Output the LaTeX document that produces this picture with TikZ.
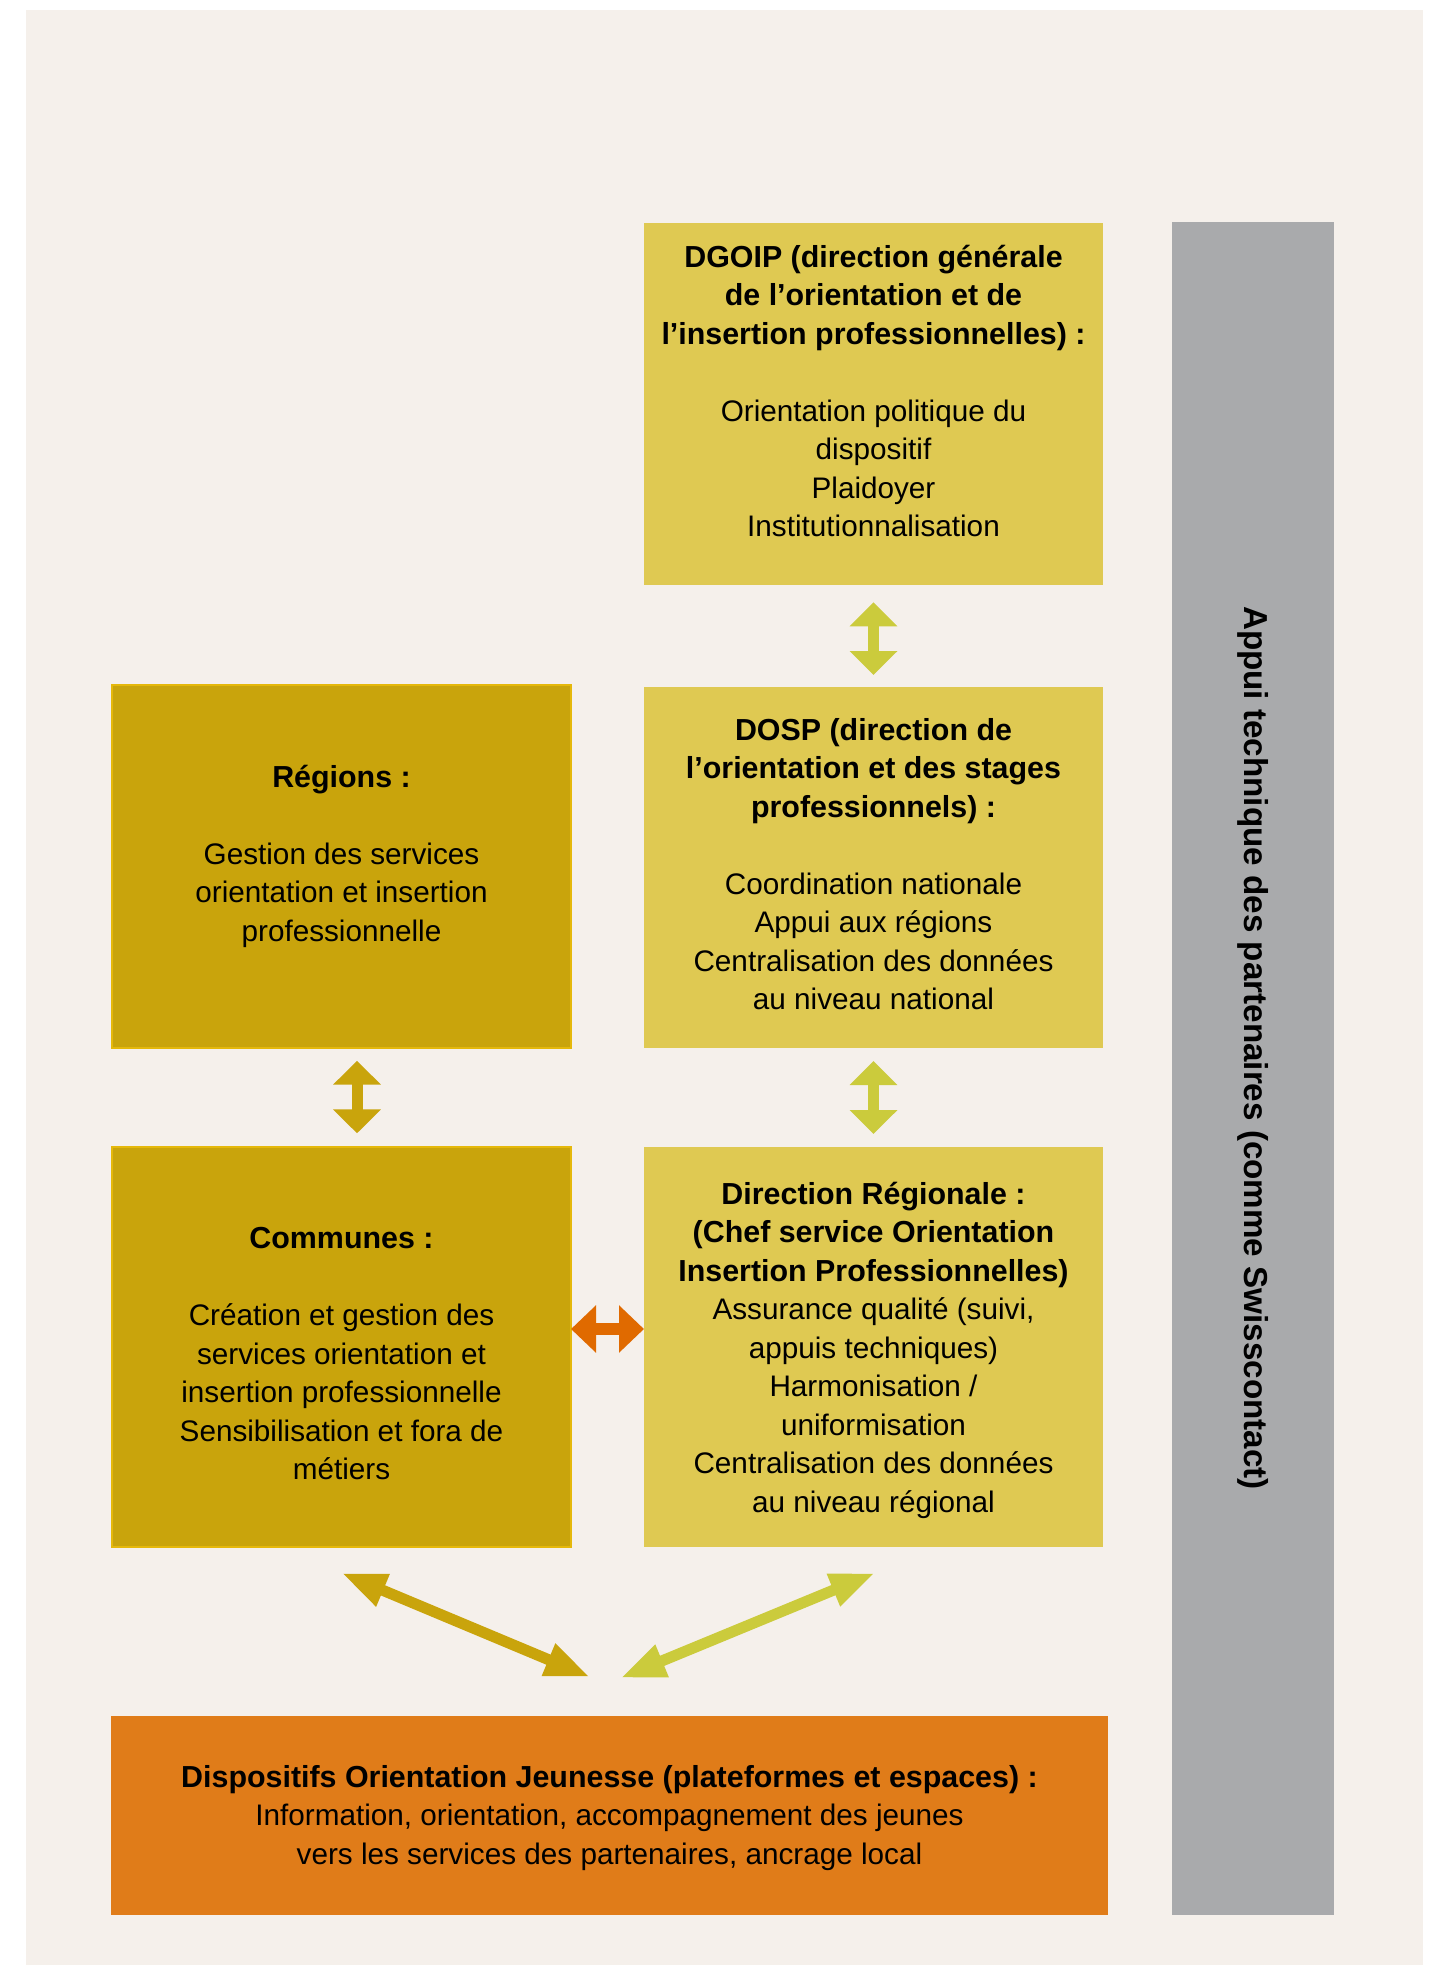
\documentclass[tikz,border=0pt]{standalone}
\usepackage{fontspec}
\setmainfont{Liberation Sans}
\usetikzlibrary{arrows.meta}
\definecolor{bg}{HTML}{F5F0EB}
\definecolor{lightbox}{HTML}{DFC952}
\definecolor{darkbox}{HTML}{C9A40C}
\definecolor{darkedge}{HTML}{E5B80B}
\definecolor{orangebox}{HTML}{E07C19}
\definecolor{graybar}{HTML}{A9AAAC}
\definecolor{arrorange}{HTML}{E06A00}
\definecolor{arrgreen}{HTML}{CBCB3C}
\definecolor{arrgold}{HTML}{C9A40C}
\newcommand{\bl}[1]{{\fontsize{15.2pt}{19.25pt}\selectfont\bfseries #1}}
\begin{document}
\begin{tikzpicture}[x=0.5pt,y=-0.5pt,
  box/.style={rectangle, inner sep=0pt, outer sep=0pt},
  lbox/.style={box, fill=lightbox, minimum width=229.5pt},
  dbox/.style={box, fill=darkbox, draw=darkedge, line width=1pt, minimum width=229.5pt},
  txt/.style={align=center, inner sep=0pt, font=\fontsize{14.85pt}{19.25pt}\selectfont},
  varrow/.style={line width=5.5pt, line cap=butt, {Triangle[length=12pt,width=23.25pt]}-{Triangle[length=12pt,width=23.25pt]}},
  harrow/.style={line width=5.75pt, line cap=butt, {Triangle[length=12.5pt,width=23pt]}-{Triangle[length=12.5pt,width=23pt]}},
  darrow/.style={line width=5.5pt, line cap=butt, {Triangle[length=22.5pt,width=16pt]}-{Triangle[length=22.5pt,width=16pt]}},
]
\useasboundingbox (0,0) rectangle (1446,1965);
\fill[bg] (26,10) rectangle (1423,1965);

% boxes
\node[lbox, minimum height=180.75pt] (dgoip) at (873.5,403.75) {};
\node[lbox, minimum height=180.5pt] (dosp) at (873.5,867.5) {};
\node[dbox, minimum height=181.5pt] (regions) at (341.5,866.5) {};
\node[dbox, minimum height=200pt] (communes) at (341.5,1347) {};
\node[lbox, minimum height=200pt] (dirreg) at (873.5,1347) {};
\node[box, fill=orangebox, minimum width=498.5pt, minimum height=99.5pt] (orange) at (609.5,1815.5) {};
\node[box, fill=graybar, minimum width=81pt, minimum height=846.5pt] (gray) at (1253,1068.5) {};

% texts
\node[txt] (dgoipt) at (873.5,391) {\bl{DGOIP (direction générale}\\\bl{de l’orientation et de}\\\bl{l’insertion professionnelles) :}\\\mbox{}\\Orientation politique du\\dispositif\\Plaidoyer\\Institutionnalisation};
\node[txt] (dospt) at (873.5,864) {\bl{DOSP (direction de}\\\bl{l’orientation et des stages}\\\bl{professionnels) :}\\\mbox{}\\Coordination nationale\\Appui aux régions\\Centralisation des données\\au niveau national};
\node[txt] (regionst) at (341.5,856) {\bl{Régions :}\\\mbox{}\\Gestion des services\\orientation et insertion\\professionnelle};
\node[txt] (communest) at (341.5,1354) {\bl{Communes :}\\\mbox{}\\Création et gestion des\\services orientation et\\insertion professionnelle\\Sensibilisation et fora de\\métiers};
\node[txt] (dirregt) at (873.5,1350) {\bl{Direction Régionale :}\\\bl{(Chef service Orientation}\\\bl{Insertion Professionnelles)}\\Assurance qualité (suivi,\\appuis techniques)\\Harmonisation /\\uniformisation\\Centralisation des données\\au niveau régional};
\node[txt] (oranget) at (609.5,1818) {\bl{Dispositifs Orientation Jeunesse (plateformes et espaces) :}\\Information, orientation, accompagnement des jeunes\\vers les services des partenaires, ancrage local};
\node[rotate=-90, inner sep=0pt, font=\fontsize{16.6pt}{19.25pt}\selectfont\bfseries] (grayt) at (1253,1048) {Appui technique des partenaires (comme Swisscontact)};

% arrows
\draw[varrow, arrgreen, shorten <=8.9pt, shorten >=6pt] (dgoip.south) -- (dosp.north);
\draw[varrow, arrgreen, shorten <=6.5pt, shorten >=6.5pt] (dosp.south) -- (dirreg.north);
\draw[varrow, arrgold, shorten <=6.35pt, shorten >=6.85pt] ([xshift=7.75pt]regions.south) -- ([xshift=7.75pt]communes.north);
\draw[harrow, arrorange] ([yshift=9pt]communes.east) -- ([yshift=9pt]dirreg.west);

\coordinate (dl1) at ([yshift=-13pt]communes.south);
\coordinate (dl2) at ([xshift=-9.75pt,yshift=19.5pt]orange.north);
\coordinate (dr1) at ([xshift=5.5pt,yshift=19pt]orange.north);
\coordinate (dr2) at ([xshift=0.75pt,yshift=-13pt]dirreg.south);
\draw[darrow, arrgold] (dl1) -- (dl2);
\draw[darrow, arrgreen] (dr1) -- (dr2);
\end{tikzpicture}
\end{document}
